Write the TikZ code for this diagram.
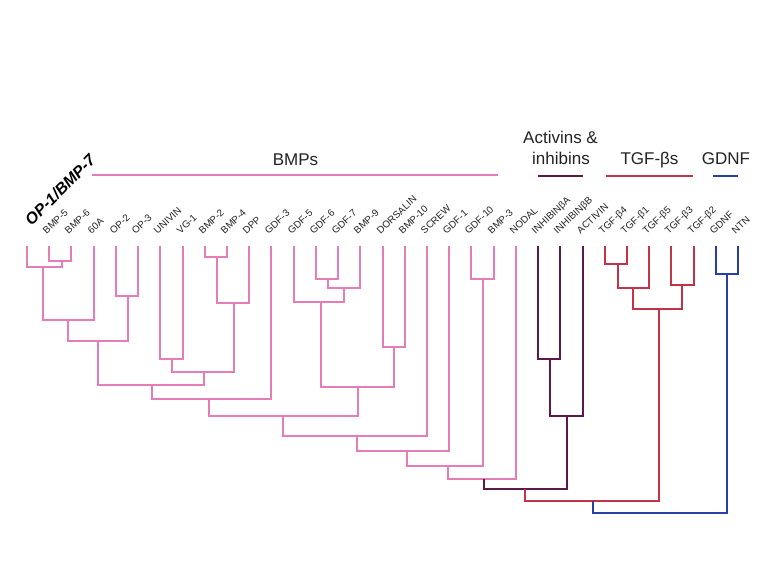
\documentclass[tikz,border=0pt]{standalone}
\usepackage{fontspec}
\setmainfont{Liberation Sans}
\definecolor{cpink}{RGB}{229,125,184}
\definecolor{cpurp}{RGB}{92,26,74}
\definecolor{cred}{RGB}{196,52,72}
\definecolor{cblue}{RGB}{40,62,168}
\definecolor{ctext}{RGB}{35,35,35}
\newcommand{\mkjoin}[6]{\coordinate (#1) at (#2,#3); \draw[#4] (#5) |- (#1) -| (#6);}
\begin{document}
\begin{tikzpicture}[x=1pt,y=-1pt,line width=2pt,
  lab/.style={font=\fontsize{9.8}{11}\selectfont, text=ctext, inner sep=0pt, anchor=base west, rotate=43},
  head/.style={font=\fontsize{17}{20}\selectfont, text=ctext, inner sep=0pt, anchor=base},
  bar/.style={line width=2pt}]
\useasboundingbox (0,0) rectangle (779,574);
\fill[white] (0,0) rectangle (779,574);
% leaves
\coordinate (l0) at (27,246);
\node[lab, rotate=2, font=\fontsize{16}{18}\selectfont\bfseries\itshape, text=black] (t0) at (31,227) {OP-1/BMP-7};
\foreach \t [count=\i from 1] in {BMP-5,BMP-6,60A,OP-2,OP-3,UNIVIN,VG-1,BMP-2,BMP-4,DPP,GDF-3,GDF-5,GDF-6,GDF-7,BMP-9,DORSALIN,BMP-10,SCREW,GDF-1,GDF-10,BMP-3,NODAL,INHIBINβA,INHIBINβB,ACTIVIN,TGF-β4,TGF-β1,TGF-β5,TGF-β3,TGF-β2,GDNF,NTN}{
  \coordinate (l\i) at ({round(27+22.22*\i)},246);
  \node[lab] (t\i) at ({round(27+22.22*\i)-3},235) {\t};
}
% BMP clade
\mkjoin{a1}{62}{261}{cpink}{l1}{l2}
\mkjoin{a2}{43}{267}{cpink}{l0}{a1}
\mkjoin{a3}{68}{320}{cpink}{a2}{l3}
\mkjoin{a4}{128}{296}{cpink}{l4}{l5}
\mkjoin{a5}{98}{341}{cpink}{a3}{a4}
\mkjoin{a6}{172}{359}{cpink}{l6}{l7}
\mkjoin{a7}{217}{257}{cpink}{l8}{l9}
\mkjoin{a8}{234}{303}{cpink}{a7}{l10}
\mkjoin{a9}{204}{372}{cpink}{a6}{a8}
\mkjoin{a10}{152}{385}{cpink}{a5}{a9}
\mkjoin{a11}{209}{399}{cpink}{a10}{l11}
\mkjoin{b1}{328}{279}{cpink}{l13}{l14}
\mkjoin{b2}{344}{288}{cpink}{b1}{l15}
\mkjoin{b3}{321}{302}{cpink}{l12}{b2}
\mkjoin{b4}{394}{347}{cpink}{l16}{l17}
\mkjoin{b5}{358}{387}{cpink}{b3}{b4}
\mkjoin{a12}{283}{416}{cpink}{a11}{b5}
\mkjoin{a13}{357}{436}{cpink}{a12}{l18}
\mkjoin{a14}{407}{451}{cpink}{a13}{l19}
\mkjoin{c1}{483}{279}{cpink}{l20}{l21}
\mkjoin{a15}{448}{466}{cpink}{a14}{c1}
\mkjoin{a16}{484}{479}{cpink}{a15}{l22}
% activins
\mkjoin{d1}{550}{359}{cpurp}{l23}{l24}
\mkjoin{d2}{567}{416}{cpurp}{d1}{l25}
\mkjoin{e}{525}{489}{cpurp}{a16}{d2}
% TGF-betas
\mkjoin{r1}{618}{264}{cred}{l26}{l27}
\mkjoin{r2}{633}{288}{cred}{r1}{l28}
\mkjoin{r3}{682}{285}{cred}{l29}{l30}
\mkjoin{r4}{659}{309}{cred}{r2}{r3}
\mkjoin{f}{593}{501}{cred}{e}{r4}
% GDNF
\mkjoin{g1}{727}{274}{cblue}{l31}{l32}
\mkjoin{root}{593}{513}{cblue}{f}{g1}
% headers
\coordinate (pb1) at (92,175); \coordinate (pb2) at (498,175);
\draw[bar,cpink] (pb1) -- (pb2);
\coordinate (ub1) at (538,176); \coordinate (ub2) at (583,176);
\draw[bar,cpurp] (ub1) -- (ub2);
\coordinate (rb1) at (606,176); \coordinate (rb2) at (693,176);
\draw[bar,cred] (rb1) -- (rb2);
\coordinate (gb1) at (713,176); \coordinate (gb2) at (738,176);
\draw[bar,cblue] (gb1) -- (gb2);
\node[head] (hb) at (295.5,165) {BMPs};
\node[head] (ha1) at (560.5,143) {Activins \&};
\node[head] (ha2) at (561,164) {inhibins};
\node[head] (ht) at (649.5,164) {TGF-βs};
\node[head] (hg) at (726,164) {GDNF};
\end{tikzpicture}
\end{document}
